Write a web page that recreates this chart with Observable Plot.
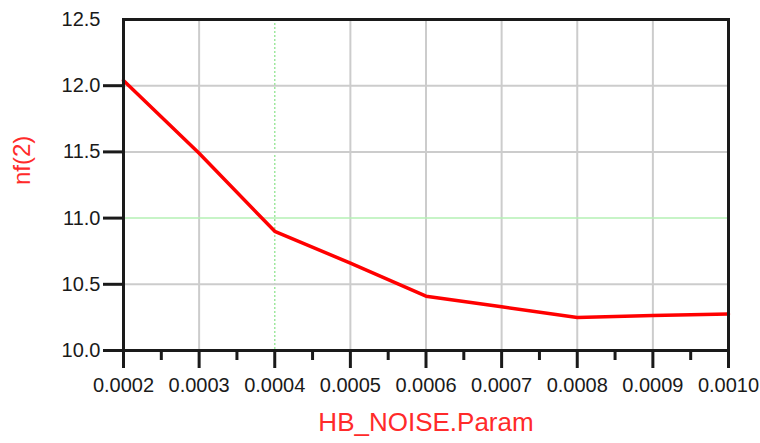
<!DOCTYPE html>
<html>
<head>
<meta charset="utf-8">
<script src="https://cdn.jsdelivr.net/npm/d3@7"></script>
<script src="https://cdn.jsdelivr.net/npm/@observablehq/plot@0.6"></script>
<style>
  html, body { margin: 0; padding: 0; background: #fff; }
</style>
</head>
<body>
<div id="chart"></div>
<script>
const params = [0.0002, 0.0003, 0.0004, 0.0005, 0.0006, 0.0007, 0.0008, 0.0009, 0.0010];
const nf2 = [12.04, 11.49, 10.90, 10.66, 10.41, 10.33, 10.25, 10.265, 10.275];
const xTicks = [0.0002, 0.0003, 0.0004, 0.0005, 0.0006, 0.0007, 0.0008, 0.0009, 0.0010];
const xMinorTicks = [0.00025, 0.00035, 0.00045, 0.00055, 0.00065, 0.00075, 0.00085, 0.00095];
const yTicks = [10.0, 10.5, 11.0, 11.5, 12.0];
const yTopTick = [12.5];
const xGridGray = [0.0003, 0.0005, 0.0006, 0.0007, 0.0008, 0.0009];
const xGridGreen = [0.0004];
const yGridGray = [10.5, 11.5, 12.0];
const yGridGreen = [11.0];
const xLabel = "HB_NOISE.Param";
const yLabel = "nf(2)";

const data = params.map((p, i) => ({param: p, nf: nf2[i]}));

const chart = Plot.plot({
  width: 760,
  height: 443,
  marginLeft: 123,
  marginRight: 32,
  marginTop: 19,
  marginBottom: 93,
  style: {fontFamily: "'Liberation Sans', Arial, sans-serif", background: "#fff"},
  x: {domain: [0.0002, 0.0010], label: null},
  y: {domain: [10, 12.5], label: null},
  marks: [
    Plot.ruleX(xGridGray, {stroke: "#cccccc", strokeWidth: 2}),
    Plot.ruleX(xGridGreen, {stroke: "#9ee89e", strokeWidth: 1.5, strokeDasharray: "2,2"}),
    Plot.ruleY(yGridGray, {stroke: "#cccccc", strokeWidth: 2}),
    Plot.ruleY(yGridGreen, {stroke: "#b4f0b4", strokeWidth: 1.5}),
    Plot.line(data, {x: "param", y: "nf", stroke: "#ff0000", strokeWidth: 3.5, strokeLinejoin: "round"}),
    Plot.frame({stroke: "#1a1a1a", strokeWidth: 3}),
    Plot.axisX({ticks: xTicks, tickSize: 18, tickPadding: 9, strokeWidth: 3, color: "#1a1a1a", fontSize: 20, tickFormat: d3.format(".4f"), label: null}),
    Plot.axisX({ticks: xMinorTicks, tickSize: 10, strokeWidth: 3, color: "#1a1a1a", text: null, label: null}),
    Plot.axisY({ticks: yTicks, tickSize: 20, tickPadding: 3, strokeWidth: 3, color: "#1a1a1a", fontSize: 20, tickFormat: d3.format(".1f"), label: null}),
    Plot.axisY({ticks: yTopTick, tickSize: 0, tickPadding: 23, color: "#1a1a1a", fontSize: 20, tickFormat: d3.format(".1f"), label: null}),
    Plot.text([yLabel], {frameAnchor: "left", dx: -101, rotate: -90, fill: "#ff2a2a", fontSize: 24}),
    Plot.text([xLabel], {frameAnchor: "bottom", dy: 80, fill: "#ff2a2a", fontSize: 26})
  ]
});
document.getElementById("chart").appendChild(chart);
</script>
</body>
</html>
